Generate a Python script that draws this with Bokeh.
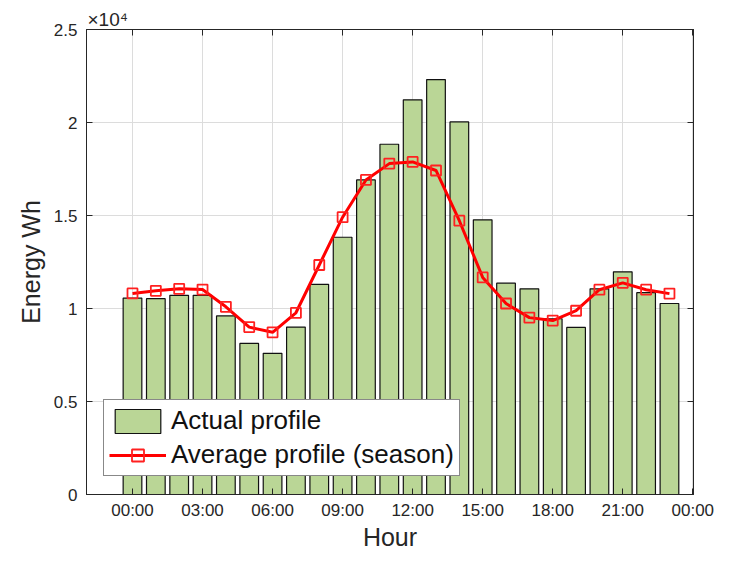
from bokeh.plotting import figure
from bokeh.models import (Range1d, FixedTicker, LinearAxis, Legend, LegendItem,
                          ColumnDataSource)
from bokeh.embed import file_html
from bokeh.resources import INLINE

# ---- data ----
hours = list(range(24))
actual_wh = [10560, 10530, 10710, 10710, 9600, 8120, 7590, 9000, 11300, 13830,
             16910, 18830, 21220, 22310, 20030, 14770, 11360, 11060, 9450, 8980,
             11060, 11970, 10850, 10270]
average_wh = [10810, 10950, 11060, 11020, 10090, 9000, 8720, 9770, 12340, 14910,
              16910, 17790, 17880, 17420, 14720, 11670, 10270, 9510, 9350, 9880,
              11010, 11380, 11010, 10800]
x_ticks = [0, 3, 6, 9, 12, 15, 18, 21, 24]
x_tick_labels = ["00:00", "03:00", "06:00", "09:00", "12:00", "15:00", "18:00",
                 "21:00", "00:00"]
y_ticks = [0, 5000, 10000, 15000, 20000, 25000]
y_tick_labels = ["0", "0.5", "1", "1.5", "2", "2.5"]

FONT = "Liberation Sans"
TXT = "#262626"

src = ColumnDataSource(dict(hour=hours, actual=actual_wh, avg=average_wh))

p = figure(width=714, height=553, output_backend="svg", toolbar_location=None,
           x_range=Range1d(-1.97, 24.03), y_range=Range1d(0, 25000),
           min_border_left=86, min_border_right=21, min_border_top=29,
           min_border_bottom=55, background_fill_color="white",
           border_fill_color="white", title="×10⁴")
p.outline_line_color = TXT
p.outline_line_width = 1

# exponent shown as the title, at the top-left of the axes
p.title.align = "left"
p.title.offset = 1
p.title.standoff = 0
p.title.text_font = FONT
p.title.text_font_size = "19px"
p.title.text_font_style = "normal"
p.title.text_color = TXT

# grid
p.xgrid.ticker = FixedTicker(ticks=x_ticks)
p.ygrid.ticker = FixedTicker(ticks=y_ticks)
for g in (p.xgrid, p.ygrid):
    g.grid_line_color = "#dcdcdc"
    g.grid_line_width = 1

# axes
xa = p.xaxis[0]
ya = p.yaxis[0]
xa.ticker = FixedTicker(ticks=x_ticks)
xa.major_label_overrides = {t: l for t, l in zip(x_ticks, x_tick_labels)}
ya.ticker = FixedTicker(ticks=y_ticks)
ya.major_label_overrides = {t: l for t, l in zip(y_ticks, y_tick_labels)}
xa.axis_label = "Hour"
ya.axis_label = "Energy Wh"
for ax in (xa, ya):
    ax.major_tick_in = 6
    ax.major_tick_out = 0
    ax.minor_tick_line_color = None
    ax.axis_line_color = TXT
    ax.major_tick_line_color = TXT
    ax.major_label_text_font = FONT
    ax.major_label_text_font_size = "17px"
    ax.major_label_text_color = TXT
    ax.axis_label_text_font = FONT
    ax.axis_label_text_font_size = "25px"
    ax.axis_label_text_font_style = "normal"
    ax.axis_label_text_color = TXT
xa.major_label_standoff = 6
xa.axis_label_standoff = 0
ya.major_label_standoff = 9
ya.axis_label_standoff = 6

# mirrored axes (top/right) with inward ticks, no labels
top = LinearAxis(ticker=FixedTicker(ticks=x_ticks))
right = LinearAxis(ticker=FixedTicker(ticks=y_ticks))
for ax in (top, right):
    ax.major_tick_in = 6
    ax.major_tick_out = 0
    ax.minor_tick_line_color = None
    ax.axis_line_color = TXT
    ax.major_tick_line_color = TXT
    ax.major_label_text_font_size = "1px"
    ax.major_label_text_color = None
    ax.major_label_standoff = 0
p.add_layout(top, "above")
p.add_layout(right, "right")

# bars
bars = p.vbar(x="hour", top="actual", width=0.8, source=src,
              fill_color="#bad696", line_color="#111111", line_width=1.2)
# average line
line = p.line(x="hour", y="avg", source=src, line_color="#ff0000", line_width=3)
marks = p.scatter(x="hour", y="avg", source=src, marker="square", size=10,
                  fill_color=None, line_color="#ff2020", line_width=1.8)

legend = Legend(items=[LegendItem(label="Actual profile", renderers=[bars]),
                       LegendItem(label="Average profile (season)",
                                  renderers=[line, marks])],
                location=(17, 18))
legend.label_text_font = FONT
legend.label_text_font_size = "26px"
legend.label_text_color = "#111111"
legend.glyph_width = 57
legend.glyph_height = 30
legend.label_height = 30
legend.label_standoff = 5
legend.padding = 5
legend.spacing = 3
legend.margin = 0
legend.border_line_color = "#111111"
legend.border_line_width = 1
legend.background_fill_color = "white"
legend.background_fill_alpha = 1
p.add_layout(legend)

open("out.html", "w").write(file_html(p, INLINE))
